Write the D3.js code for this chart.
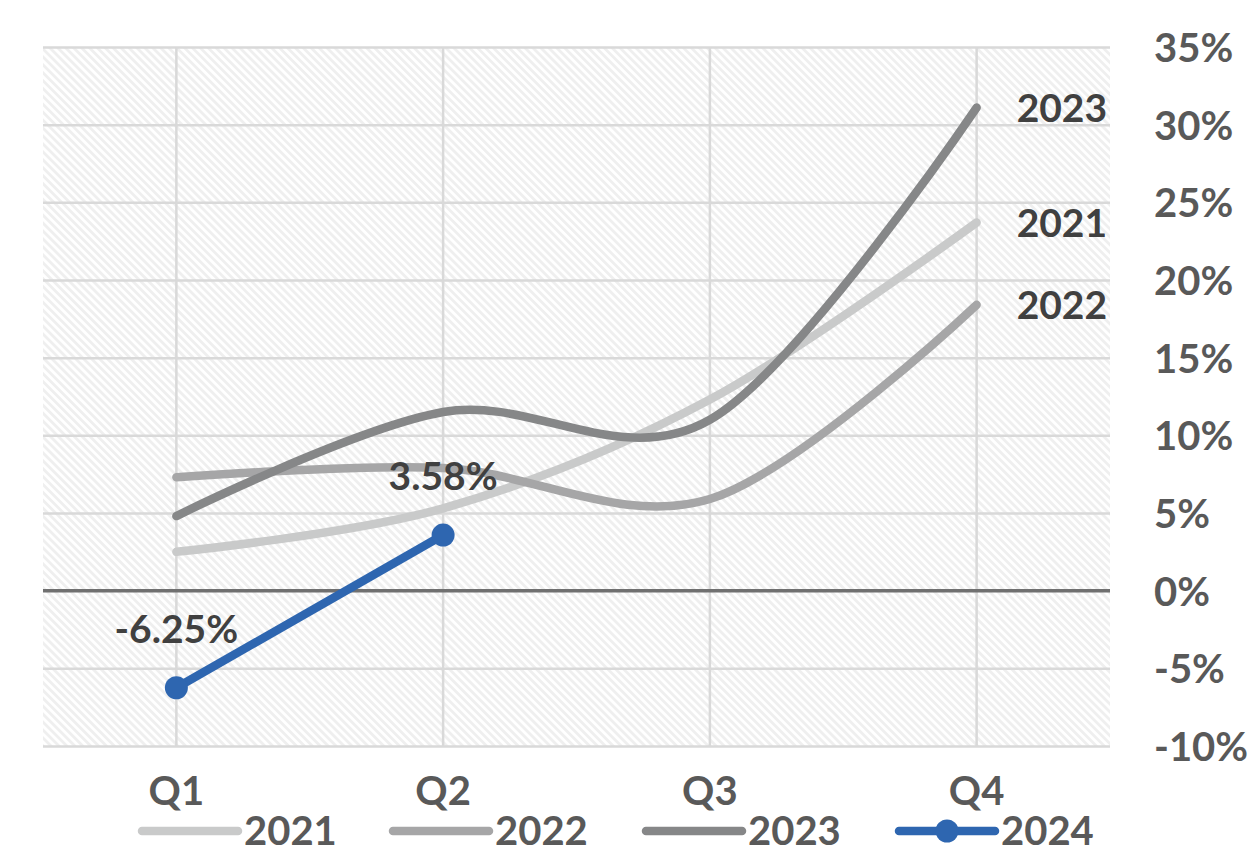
<!DOCTYPE html>
<html>
<head>
<meta charset="utf-8">
<script src="https://cdn.jsdelivr.net/npm/d3@7"></script>
<style>
  html, body { margin: 0; padding: 0; background: #ffffff; }
  svg { display: block; }
  text { font-family: Lato, "Liberation Sans", sans-serif; font-weight: bold; }
</style>
</head>
<body>
<svg id="chart" width="1254" height="858"></svg>
<script>
// ---- data ----
const quarters = ["Q1", "Q2", "Q3", "Q4"];
const years = ["2021", "2022", "2023", "2024"];
const values2021 = [2.5, 5.3, 12.3, 23.7];
const values2022 = [7.3, 7.9, 5.9, 18.4];
const values2023 = [4.8, 11.5, 11.0, 31.1];
const values2024 = [-6.25, 3.58];
const yTicks = [-10, -5, 0, 5, 10, 15, 20, 25, 30, 35];
const seriesColors = ["#c9caca", "#a6a6a7", "#868788", "#2e66b0"];
const endLabelYears = ["2021", "2022", "2023"];

const series = [
  { name: years[0], values: values2021, color: seriesColors[0], smooth: true },
  { name: years[1], values: values2022, color: seriesColors[1], smooth: true },
  { name: years[2], values: values2023, color: seriesColors[2], smooth: true },
  { name: years[3], values: values2024, color: seriesColors[3], smooth: false, markers: true }
];

const svg = d3.select("#chart");
const plot = { left: 43, right: 1110, top: 47, bottom: 746 };

const x = d3.scaleBand().domain(quarters).range([plot.left, plot.right]);
const xc = q => x(q) + x.bandwidth() / 2;
const y = d3.scaleLinear().domain([-10, 35]).range([plot.bottom, plot.top]);

// hatch pattern
const defs = svg.append("defs");
const pat = defs.append("pattern")
  .attr("id", "hatch")
  .attr("patternUnits", "userSpaceOnUse")
  .attr("width", 5.6).attr("height", 5.6)
  .attr("patternTransform", "rotate(-45)");
pat.append("rect").attr("width", 5.6).attr("height", 5.6).attr("fill", "#ffffff");
pat.append("rect").attr("width", 2.8).attr("height", 5.6).attr("fill", "#efefef");

svg.append("rect")
  .attr("x", plot.left).attr("y", plot.top)
  .attr("width", plot.right - plot.left).attr("height", plot.bottom - plot.top)
  .attr("fill", "url(#hatch)");

// horizontal gridlines via axis
const yGrid = d3.axisRight(y).tickValues(yTicks.filter(v => v !== 0))
  .tickSize(plot.right - plot.left).tickFormat("");
const gy = svg.append("g").attr("transform", `translate(${plot.left},0)`).call(yGrid);
gy.select(".domain").remove();
gy.selectAll(".tick line").attr("stroke", "#d9d9d9").attr("stroke-width", 2.5);

// vertical gridlines at category centers
svg.append("g").selectAll("line").data(quarters).join("line")
  .attr("x1", d => xc(d)).attr("x2", d => xc(d))
  .attr("y1", plot.top).attr("y2", plot.bottom)
  .attr("stroke", "#d9d9d9").attr("stroke-width", 2.5);

// zero line
svg.append("line")
  .attr("x1", plot.left).attr("x2", plot.right)
  .attr("y1", y(0)).attr("y2", y(0))
  .attr("stroke", "#707070").attr("stroke-width", 3.5);

// y axis labels (right side)
const yAxis = d3.axisRight(y).tickValues(yTicks).tickSize(0).tickFormat(d => d + "%");
const ga = svg.append("g").attr("transform", `translate(1154,0)`).call(yAxis);
ga.select(".domain").remove();
ga.selectAll(".tick text")
  .attr("x", 0).attr("dy", "0.36em")
  .attr("text-anchor", "start")
  .attr("fill", "#595959")
  .style("font-size", "40px")
  .style("font-family", null);

// x axis labels
const xAxis = d3.axisBottom(x).tickSize(0).tickPadding(0);
const gx = svg.append("g").attr("transform", `translate(0,791)`).call(xAxis);
gx.select(".domain").remove();
gx.selectAll(".tick text")
  .attr("y", 0).attr("dy", "0.36em")
  .attr("fill", "#595959")
  .style("font-size", "40px")
  .style("font-family", null);

// lines
const lineSmooth = d3.line().x((d, i) => xc(quarters[i])).y(d => y(d)).curve(d3.curveCardinal.tension(0));
const lineStraight = d3.line().x((d, i) => xc(quarters[i])).y(d => y(d));

series.forEach(s => {
  svg.append("path")
    .attr("d", (s.smooth ? lineSmooth : lineStraight)(s.values))
    .attr("fill", "none")
    .attr("stroke", s.color)
    .attr("stroke-width", 8.5)
    .attr("stroke-linecap", "round")
    .attr("stroke-linejoin", "round");
  if (s.markers) {
    svg.append("g").selectAll("circle").data(s.values).join("circle")
      .attr("cx", (d, i) => xc(quarters[i]))
      .attr("cy", d => y(d))
      .attr("r", 11.5)
      .attr("fill", s.color);
  }
});

// data labels for 2024
svg.append("g").selectAll("text").data(values2024).join("text")
  .attr("x", (d, i) => xc(quarters[i]))
  .attr("y", d => y(d) - 59)
  .attr("dy", "0.36em")
  .attr("text-anchor", "middle")
  .attr("fill", "#404040")
  .style("font-size", "39px")
  .text(d => d.toFixed(2) + "%");

// end labels for 2021-2023
const endData = series.filter(s => endLabelYears.includes(s.name));
svg.append("g").selectAll("text").data(endData).join("text")
  .attr("x", xc(quarters[3]) + 40)
  .attr("y", s => y(s.values[s.values.length - 1]))
  .attr("dy", "0.36em")
  .attr("text-anchor", "start")
  .attr("fill", "#404040")
  .style("font-size", "39px")
  .text(s => s.name);

// legend
const legendX = [142, 393, 646, 899];
const lg = svg.append("g").selectAll("g").data(series).join("g")
  .attr("transform", (s, i) => `translate(${legendX[i]},831)`);
lg.append("line")
  .attr("x1", 0).attr("x2", 96).attr("y1", 0).attr("y2", 0)
  .attr("stroke", s => s.color).attr("stroke-width", 8.5).attr("stroke-linecap", "round");
lg.filter(s => s.markers).append("circle")
  .attr("cx", 48).attr("cy", 0).attr("r", 11.5).attr("fill", s => s.color);
lg.append("text")
  .attr("x", 102).attr("y", 0).attr("dy", "0.36em")
  .attr("fill", "#595959")
  .style("font-size", "40px")
  .text(s => s.name);
</script>
</body>
</html>
